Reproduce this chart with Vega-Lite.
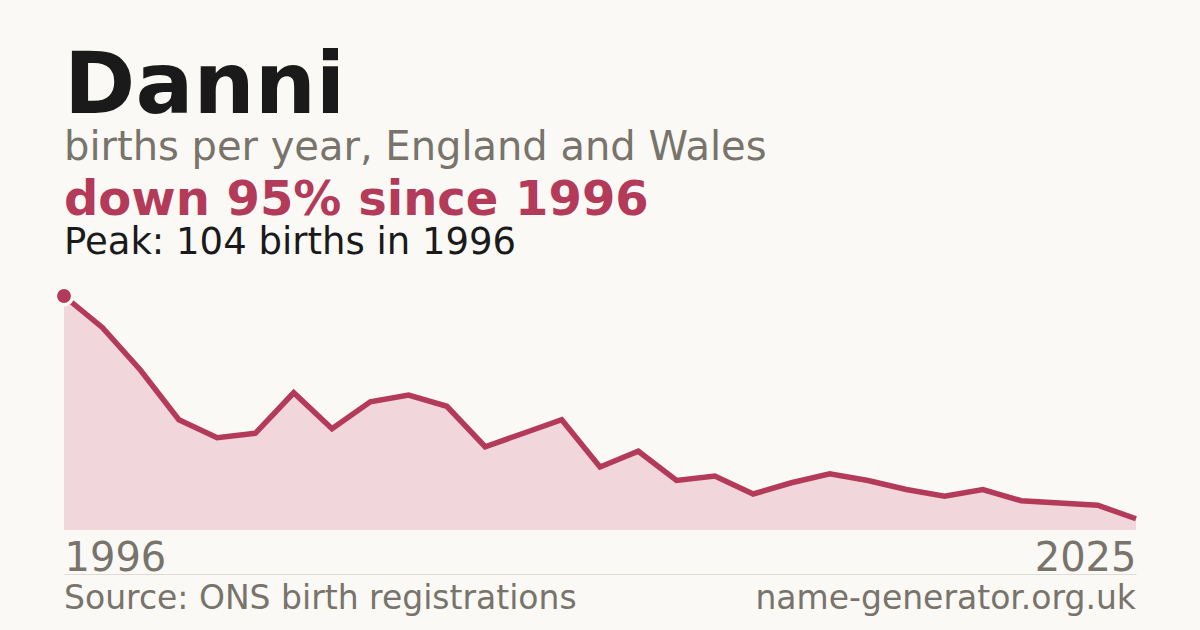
{
  "$schema": "https://vega.github.io/schema/vega-lite/v6.json",
  "width": 1072,
  "height": 234,
  "autosize": {"type": "none"},
  "padding": {"left": 64, "top": 296, "right": 64, "bottom": 100},
  "background": "#faf9f5",
  "view": {"stroke": null},
  "config": {"font": "DejaVu Sans"},
  "data": {
    "values": [
      {"year": 1996, "births": 104},
      {"year": 1997, "births": 90},
      {"year": 1998, "births": 71},
      {"year": 1999, "births": 49},
      {"year": 2000, "births": 41},
      {"year": 2001, "births": 43},
      {"year": 2002, "births": 61},
      {"year": 2003, "births": 45},
      {"year": 2004, "births": 57},
      {"year": 2005, "births": 60},
      {"year": 2006, "births": 55},
      {"year": 2007, "births": 37},
      {"year": 2008, "births": 43},
      {"year": 2009, "births": 49},
      {"year": 2010, "births": 28},
      {"year": 2011, "births": 35},
      {"year": 2012, "births": 22},
      {"year": 2013, "births": 24},
      {"year": 2014, "births": 16},
      {"year": 2015, "births": 21},
      {"year": 2016, "births": 25},
      {"year": 2017, "births": 22},
      {"year": 2018, "births": 18},
      {"year": 2019, "births": 15},
      {"year": 2020, "births": 18},
      {"year": 2021, "births": 13},
      {"year": 2022, "births": 12},
      {"year": 2023, "births": 11},
      {"year": 2024, "births": 5}
    ]
  },
  "encoding": {
    "x": {
      "field": "year",
      "type": "quantitative",
      "scale": {"domain": [1996, 2024], "nice": false, "zero": false},
      "axis": {
        "title": null,
        "values": [1996, 2024],
        "labelExpr": "datum.value == 2024 ? '2025' : datum.label",
        "format": "d",
        "grid": false,
        "ticks": false,
        "domain": true,
        "domainColor": "#dedbd4",
        "domainWidth": 1,
        "offset": 44,
        "labelPadding": -4,
        "labelBaseline": "alphabetic",
        "labelFlush": true,
        "labelFontSize": 40,
        "labelColor": "#78736b",
        "labelFont": "DejaVu Sans"
      }
    },
    "y": {
      "field": "births",
      "type": "quantitative",
      "scale": {"domain": [0, 104], "nice": false},
      "axis": null
    }
  },
  "layer": [
    {"mark": {"type": "area", "color": "#f1d6dc"}},
    {"mark": {"type": "line", "color": "#b43a5a", "strokeWidth": 5.5}},
    {
      "transform": [
        {"joinaggregate": [{"op": "max", "field": "births", "as": "peak"}]},
        {"filter": "datum.births == datum.peak"}
      ],
      "mark": {"type": "point", "shape": "circle", "filled": true, "size": 300, "fill": "#b43a5a", "opacity": 1, "stroke": "#faf9f5", "strokeWidth": 3.5}
    },
    {
      "data": {"values": [{"label": "Danni"}]},
      "mark": {"type": "text", "x": 0, "y": -183, "align": "left", "baseline": "alphabetic", "fontSize": 86, "fontWeight": "bold", "color": "#1a1a1a"},
      "encoding": {"x": null, "y": null, "text": {"field": "label"}}
    },
    {
      "data": {"values": [{"label": "births per year, England and Wales"}]},
      "mark": {"type": "text", "x": 0, "y": -136, "align": "left", "baseline": "alphabetic", "fontSize": 40, "color": "#78736b"},
      "encoding": {"x": null, "y": null, "text": {"field": "label"}}
    },
    {
      "data": {"values": [{"label": "down 95% since 1996"}]},
      "mark": {"type": "text", "x": 0, "y": -81, "align": "left", "baseline": "alphabetic", "fontSize": 48, "fontWeight": "bold", "color": "#b43a5a"},
      "encoding": {"x": null, "y": null, "text": {"field": "label"}}
    },
    {
      "data": {"values": [{"label": "Peak: 104 births in 1996"}]},
      "mark": {"type": "text", "x": 0, "y": -42, "align": "left", "baseline": "alphabetic", "fontSize": 37, "color": "#1a1a1a"},
      "encoding": {"x": null, "y": null, "text": {"field": "label"}}
    },
    {
      "data": {"values": [{"label": "Source: ONS birth registrations"}]},
      "mark": {"type": "text", "x": 0, "y": {"expr": "height + 79"}, "align": "left", "baseline": "alphabetic", "fontSize": 33, "color": "#78736b"},
      "encoding": {"x": null, "y": null, "text": {"field": "label"}}
    },
    {
      "data": {"values": [{"label": "name-generator.org.uk"}]},
      "mark": {"type": "text", "x": {"expr": "width"}, "y": {"expr": "height + 79"}, "align": "right", "baseline": "alphabetic", "fontSize": 33, "color": "#78736b"},
      "encoding": {"x": null, "y": null, "text": {"field": "label"}}
    }
  ]
}
